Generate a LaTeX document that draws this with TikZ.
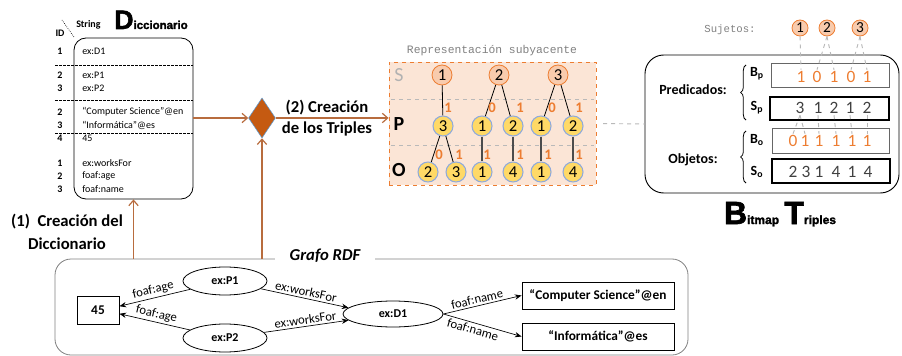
\documentclass[tikz,border=0pt]{standalone}
\usepackage{fontspec}
\setmainfont{Carlito}
\newfontfamily\heavy{Liberation Sans}[BoldFeatures={FakeBold=2}]
\newfontfamily\mono{Liberation Mono}
\usetikzlibrary{shapes.geometric,arrows.meta,decorations.pathreplacing}
\definecolor{flowc}{RGB}{184,108,62}
\definecolor{diaf}{RGB}{197,90,17}
\definecolor{diab}{RGB}{91,155,213}
\definecolor{reprf}{RGB}{251,229,214}
\definecolor{orng}{RGB}{237,125,49}
\definecolor{sfill}{RGB}{248,203,173}
\definecolor{pfill}{RGB}{255,217,102}
\definecolor{pbord}{RGB}{143,170,220}
\definecolor{gdc}{RGB}{185,185,185}
\definecolor{dgray}{RGB}{64,64,64}
\tikzset{
  every node/.style={inner sep=0pt},
  flow/.style={draw=flowc, line width=0.9pt, -{Straight Barb[length=4pt,width=7pt]}},
  dtxt/.style={anchor=west, font=\fontsize{7.5}{9}\selectfont},
  did/.style={font=\bfseries\fontsize{7.5}{9}\selectfont},
  scirc/.style={circle, draw=orng, fill=sfill, line width=0.6pt, minimum size=15pt, font=\fontsize{12.5}{12}\selectfont},
  pcirc/.style={circle, draw=pbord, fill=pfill, line width=0.8pt, minimum size=15pt, font=\fontsize{12.5}{12}\selectfont},
  olab/.style={text=orng, font=\bfseries\fontsize{11}{11}\selectfont},
  gdash/.style={draw=gdc, dashed, line width=0.7pt},
  bdig/.style={inner sep=1pt, font=\fontsize{13}{13}\selectfont},
  gell/.style={ellipse, draw, line width=0.6pt, font=\bfseries\fontsize{9}{10}\selectfont},
  grect/.style={rectangle, draw, line width=0.7pt, font=\bfseries\fontsize{10}{11}\selectfont},
  gedge/.style={draw, line width=0.5pt, -{Stealth[length=5pt,width=4pt]}},
  elab/.style={font=\fontsize{9.5}{10}\selectfont, sloped, inner sep=1.5pt},
  bmlab/.style={font=\bfseries\fontsize{10.5}{11}\selectfont},
}
\begin{document}
\begin{tikzpicture}[x=0.75pt,y=-0.75pt]
\useasboundingbox (0,0) rectangle (902,356);

% ---------------- Diccionario ----------------
\foreach \yy in {65,100,133} \draw[dash pattern=on 2pt off 1pt, line width=0.5pt] (55,\yy) -- (193,\yy);
\node[draw, rounded corners=9pt, minimum width=89.25pt, minimum height=120.75pt, line width=0.6pt] (dict) at (133.5,118.5) {};
\node[did, anchor=west] (strh) at (76,25) {String};
\node[did] (idh) at (60,33) {ID};
\draw[densely dotted, line width=0.5pt] (62,20) -- (74,37);
\node[anchor=base west] (dtitle) at (114,29) {{\heavy\bfseries\fontsize{20}{20}\selectfont D}{\heavy\bfseries\fontsize{8.6}{9}\selectfont iccionario}};
\foreach \yy/\ii/\tt [count=\k] in {51/1/ex:D1, 75/2/ex:P1, 88/3/ex:P2, 112/2/“Computer Science”@en, 125/3/“Informática”@es, 138/4/45, 163/1/ex:worksFor, 176/2/foaf:age, 189/3/foaf:name}{
  \node[did] (did\k) at (60,\yy) {\ii};
  \node[dtxt] (dtx\k) at (82,\yy) {\tt};
}
\node[align=center, font=\bfseries\fontsize{12.5}{17}\selectfont] (lab1) at (67,232) {(1)~~Creación del\\Diccionario};

% ---------------- Diamond ----------------
\node[diamond, fill=diaf, draw=diab, line width=0.4pt, minimum width=20.25pt, minimum height=30pt] (dia) at (262,118) {};
\node[align=center, font=\bfseries\fontsize{12.5}{15.5}\selectfont] (lab2) at (327,118) {(2) Creación\\de los Triples};

% ---------------- Representacion ----------------
\node[draw=orng, dashed, fill=reprf, line width=0.6pt, minimum width=155.25pt, minimum height=92.25pt] (repr) at (492.5,123.5) {};
\node[font=\mono\fontsize{8.5}{9}\selectfont, text=gray] (rtitle) at (492,51) {Representación subyacente};
\draw[gdc, dashed, line width=0.6pt] (391,99) -- (594,99);
\draw[gdc, dashed, line width=0.6pt] (391,145) -- (594,145);
\node[text=gray!60, font=\fontsize{15}{15}\selectfont] (lS) at (399,75) {S};
\node[font=\bfseries\fontsize{15}{15}\selectfont] (lP) at (399,124) {P};
\node[font=\bfseries\fontsize{15}{15}\selectfont] (lO) at (399,170) {O};

\node[scirc] (rs1) at (442,75) {1};
\node[scirc] (rs2) at (499,75) {2};
\node[scirc] (rs3) at (558,75) {3};
\foreach \xx/\v [count=\k] in {443/3, 482/1, 513/2, 541/1, 573/2}
  \node[pcirc] (rp\k) at (\xx,126) {\v};
\foreach \xx/\v [count=\k] in {428/2, 456/3, 482/1, 513/4, 541/1, 573/4}
  \node[pcirc] (ro\k) at (\xx,172) {\v};
\draw[line width=0.6pt] (rs1) -- (rp1);
\draw[line width=0.6pt] (rs2) -- (rp2);
\draw[line width=0.6pt] (rs2) -- (rp3);
\draw[line width=0.6pt] (rs3) -- (rp4);
\draw[line width=0.6pt] (rs3) -- (rp5);
\draw[line width=0.6pt] (rp1) -- (ro1);
\draw[line width=0.6pt] (rp1) -- (ro2);
\draw[line width=0.8pt, black!70] (rp2) -- (ro3);
\draw[line width=0.8pt, black!70] (rp3) -- (ro4);
\draw[line width=0.8pt, black!70] (rp4) -- (ro5);
\draw[line width=0.8pt, black!70] (rp5) -- (ro6);
\foreach \xx/\v [count=\k] in {448/1, 492/0, 520/1, 552/0, 579/1}
  \node[olab] (lpa\k) at (\xx,108) {\v};
\foreach \xx/\v [count=\k] in {439/0, 459/1, 487/1, 520/1, 548/1, 579/1}
  \node[olab] (loa\k) at (\xx,155) {\v};

% ---------------- Bitmap Triples ----------------
\node[draw, rounded corners=14pt, line width=0.7pt, minimum width=190.5pt, minimum height=103.5pt] (bm) at (772,124) {};
\draw[gdash, shorten <=5pt] (repr.east) -- (bm.west);
\node[font=\mono\fontsize{8}{9}\selectfont, text=gray] (suj) at (730,30) {Sujetos:};
\node[scirc, minimum size=12pt, font=\fontsize{11.5}{11}\selectfont] (sj1) at (800,28) {1};
\node[scirc, minimum size=12pt, font=\fontsize{11.5}{11}\selectfont] (sj2) at (827,28) {2};
\node[scirc, minimum size=12pt, font=\fontsize{11.5}{11}\selectfont] (sj3) at (860,28) {3};

\node[draw=gray!80!black, line width=0.6pt, minimum width=88.5pt, minimum height=18pt] (rbp) at (830,75) {};
\node[draw, line width=1.6pt, minimum width=89.25pt, minimum height=17.25pt] (rsp) at (829.5,108.5) {};
\node[draw=gray!80!black, line width=0.6pt, minimum width=87.75pt, minimum height=18.75pt] (rbo) at (830.5,140.5) {};
\node[draw, line width=1.6pt, minimum width=88.5pt, minimum height=18pt] (rso) at (831,171) {};

\foreach \xx/\v [count=\k] in {801/1, 817/0, 834/1, 851/0, 867/1}
  \node[bdig, text=orng] (bp\k) at (\xx,77) {\v};
\foreach \xx/\v [count=\k] in {800/3, 818/1, 834/2, 850/1, 867/2}
  \node[bdig, text=dgray] (sp\k) at (\xx,108) {\v};
\foreach \xx/\v [count=\k] in {793/0, 805/1, 819/1, 836/1, 852/1, 867/1}
  \node[bdig, text=orng] (bo\k) at (\xx,141) {\v};
\foreach \xx/\v [count=\k] in {793/2, 806/3, 819/1, 836/4, 852/1, 868/4}
  \node[bdig, text=dgray] (so\k) at (\xx,172) {\v};

\draw[gdash] (sj1.south) -- (bp1.north);
\draw[gdash] (sj2.south) -- (bp2.north);
\draw[gdash] (sj2.south) -- (bp3.north);
\draw[gdash] (sj3.south) -- (bp4.north);
\draw[gdash] (sj3.south) -- (bp5.north);
\draw[gdash] (sp1.south) -- (bo1.north);
\draw[gdash] (sp1.south) -- (bo2.north);
\draw[gdash] (sp2.south) -- (bo3.north);
\draw[gdash] (sp3.south) -- (bo4.north);
\draw[gdash] (sp4.south) -- (bo5.north);
\draw[gdash] (sp5.south) -- (bo6.north);

\node[bmlab] (lbp) at (757,74) {B\textsubscript{p}};
\node[bmlab] (lsp) at (757,108) {S\textsubscript{p}};
\node[bmlab] (lbo) at (757,140) {B\textsubscript{o}};
\node[bmlab] (lso) at (757,172) {S\textsubscript{o}};
\draw[decorate, decoration={brace, amplitude=4pt}, line width=0.6pt] (746,120) -- (746,65);
\draw[decorate, decoration={brace, amplitude=4pt}, line width=0.6pt] (746,183) -- (746,131);
\node[bmlab] (lpred) at (693,90) {Predicados:};
\node[bmlab] (lobj) at (693,160) {Objetos:};
\node[anchor=base] (btitle) at (780,224) {{\heavy\bfseries\fontsize{24}{24}\selectfont B}{\heavy\bfseries\fontsize{9}{9}\selectfont itmap}\hspace{4pt}{\heavy\bfseries\fontsize{24}{24}\selectfont T}{\heavy\bfseries\fontsize{9}{9}\selectfont riples}};

% ---------------- Grafo RDF ----------------
\node[draw=gray, rounded corners=12pt, line width=0.6pt, minimum width=474.75pt, minimum height=72pt] (grafo) at (371.5,307) {};
\node[fill=white, inner xsep=11pt, inner ysep=2pt, font=\bfseries\itshape\fontsize{12.5}{13}\selectfont] (gtitle) at (325,256) {Grafo RDF};

\node[grect, minimum width=31.5pt, minimum height=21pt] (g45) at (98,310) {45};
\node[gell, minimum width=63pt, minimum height=21pt] (gP1) at (225,281) {ex:P1};
\node[gell, minimum width=63pt, minimum height=21pt] (gP2) at (225,338) {ex:P2};
\node[gell, minimum width=75pt, minimum height=19.5pt] (gD1) at (393,314) {ex:D1};
\node[grect, minimum width=114pt, minimum height=20.25pt] (gCS) at (598,295.5) {“Computer Science”@en};
\node[grect, minimum width=114pt, minimum height=20.25pt] (gInf) at (598,336.5) {“Informática”@es};

\draw[gedge] (gP1) -- node[elab, above] {foaf:age} (g45.10);
\draw[gedge] (gP2) -- node[elab, above] {foaf:age} (g45.-10);
\draw[gedge] (gP1) -- node[elab, above] {ex:worksFor} (gD1.172);
\draw[gedge] (gP2) -- node[elab, above] {ex:worksFor} (gD1.188);
\draw[gedge] (gD1.east) -- node[elab, above, pos=0.45] {foaf:name} (gCS.west);
\draw[gedge] (gD1.east) -- node[elab, below, pos=0.4] {foaf:name} (gInf.west);

% ---------------- Flow arrows ----------------
\draw[flow] (dict.south |- grafo.north) -- (dict.south);
\draw[flow] (dia.south |- grafo.north) -- (dia.south);
\draw[flow] (dict.east |- dia.west) -- (dia.west);
\draw[flow] (dia.east) -- (dia.east -| repr.west);
\end{tikzpicture}
\end{document}
